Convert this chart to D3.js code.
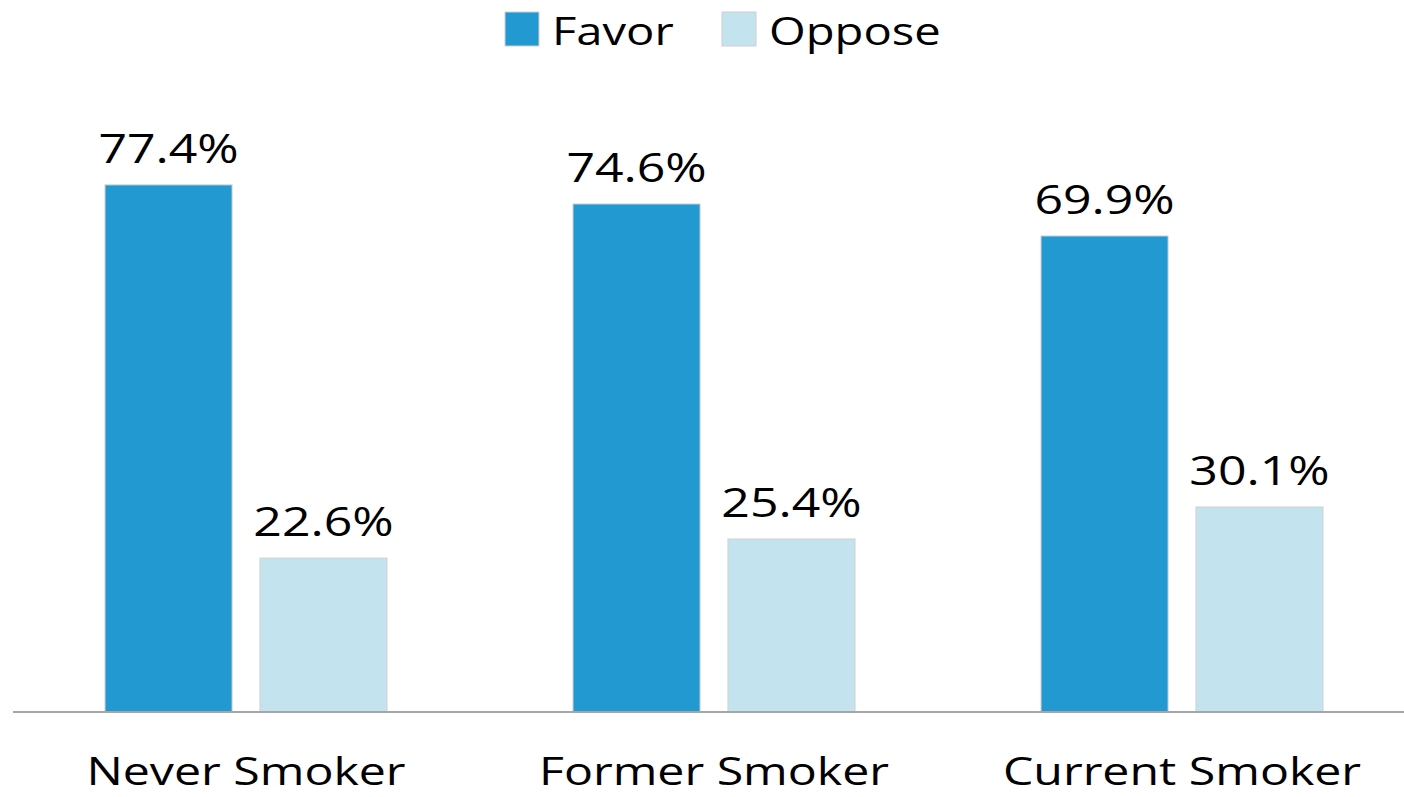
<!DOCTYPE html>
<html>
<head>
<meta charset="utf-8">
<script src="https://cdn.jsdelivr.net/npm/d3@7"></script>
<style>
  body { margin: 0; background: #fff; }
  text { font-family: "Open Sans", sans-serif; fill: #000; }
</style>
</head>
<body>
<svg></svg>
<script>
const categories = ['Never Smoker', 'Former Smoker', 'Current Smoker'];
const series = ['Favor', 'Oppose'];
const favor = [77.4, 74.6, 69.9];
const oppose = [22.6, 25.4, 30.1];
const colors = ['#2399d1', '#c3e4ee'];

const width = 1404, height = 797;
const svg = d3.select('svg').attr('width', width).attr('height', height);

// the source picture is stretched sideways, so the text is too
const stretch = 1.25;

const x0 = d3.scaleBand().domain(categories).range([12, 1416]);
const x1 = d3.scaleBand().domain(series).range([-141, 141]).paddingInner(0.18);
const y = d3.scaleLinear().domain([0, 100]).range([712, 31]);
const color = d3.scaleOrdinal().domain(series).range(colors);

const rows = categories.map((c, i) => ({cat: c, vals: [
  {key: 'Favor', v: favor[i]}, {key: 'Oppose', v: oppose[i]}
]}));

const group = svg.append('g').selectAll('g')
    .data(rows)
    .enter().append('g')
    .attr('transform', d => `translate(${x0(d.cat) + x0.bandwidth() / 2},0)`);

group.selectAll('rect')
    .data(d => d.vals)
    .enter().append('rect')
    .attr('x', d => x1(d.key))
    .attr('width', x1.bandwidth())
    .attr('y', d => y(d.v))
    .attr('height', d => y(0) - y(d.v))
    .attr('fill', d => color(d.key))
    .attr('stroke', '#d0d0d0')
    .attr('stroke-width', 1);

group.selectAll('text.val')
    .data(d => d.vals)
    .enter().append('text')
    .attr('class', 'val')
    .attr('transform', d => `translate(${x1(d.key) + x1.bandwidth() / 2},${y(d.v) - 22}) scale(${stretch},1)`)
    .attr('text-anchor', 'middle')
    .style('font-size', '40px')
    .text(d => d.v.toFixed(1) + '%');

// baseline
svg.append('line')
    .attr('x1', 13).attr('x2', width)
    .attr('y1', y(0)).attr('y2', y(0))
    .attr('stroke', '#a6a6a6')
    .attr('stroke-width', 2);

// category labels
svg.append('g').selectAll('text')
    .data(categories)
    .enter().append('text')
    .attr('transform', d => `translate(${x0(d) + x0.bandwidth() / 2},785) scale(1.27,1)`)
    .attr('text-anchor', 'middle')
    .style('font-size', '38px')
    .text(d => d);

// legend
const legendX = [505, 722];
const legend = svg.append('g').selectAll('g')
    .data(series)
    .enter().append('g')
    .attr('transform', (d, i) => `translate(${legendX[i]},12)`);

legend.append('rect')
    .attr('width', 34).attr('height', 34)
    .attr('fill', d => color(d))
    .attr('stroke', '#d0d0d0');

legend.append('text')
    .attr('transform', `translate(47,33) scale(1.21,1)`)
    .style('font-size', '39px')
    .text(d => d);
</script>
</body>
</html>
